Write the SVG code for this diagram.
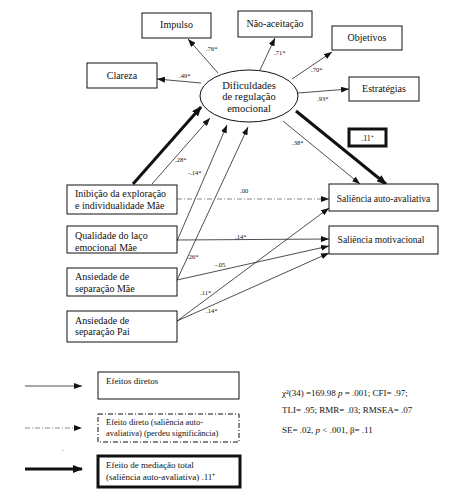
<svg xmlns="http://www.w3.org/2000/svg" width="467" height="503" viewBox="0 0 467 503">
<style>
  text { font-family: "Liberation Serif", "Times New Roman", serif; fill: #111; }
  .box { fill: #fff; stroke: #111; stroke-width: 1; }
  .bt { font-size: 10px; }
  .bc { font-size: 10px; text-anchor: middle; }
  .lab { font-size: 6.5px; }
  .lg { font-size: 9px; }
  .ln { stroke: #222; stroke-width: 0.8; fill: none; marker-end: url(#a); }
  .thick { stroke: #111; stroke-width: 3; fill: none; marker-end: url(#at); }
  .dd { stroke: #888; stroke-width: 1; fill: none; stroke-dasharray: 5 2 1 2; marker-end: url(#a); }
</style>
<defs>
  <marker id="a" markerUnits="userSpaceOnUse" markerWidth="8" markerHeight="6" refX="8" refY="3" orient="auto">
    <path d="M0,0 L8,3 L0,6 z" fill="#111"/>
  </marker>
  <marker id="at" markerUnits="userSpaceOnUse" markerWidth="10" markerHeight="8" refX="9" refY="4" orient="auto">
    <path d="M0,0 L10,4 L0,8 z" fill="#111"/>
  </marker>
</defs>
<rect width="467" height="503" fill="#fff"/>

<g id="connectors">
  <line class="ln" x1="218" y1="73" x2="188" y2="39"/>
  <line class="ln" x1="260" y1="70" x2="275" y2="38"/>
  <line class="ln" x1="292" y1="79" x2="332" y2="52"/>
  <line class="ln" x1="201" y1="83" x2="157" y2="79"/>
  <line class="ln" x1="298" y1="93" x2="349" y2="89"/>
  <line class="thick" x1="133" y1="184" x2="201" y2="107"/>
  <line class="thick" x1="296" y1="111" x2="386" y2="184"/>
  <line class="ln" x1="283" y1="121" x2="360" y2="184"/>
  <line class="ln" x1="152" y1="184" x2="210" y2="118"/>
  <line class="ln" x1="177" y1="241" x2="227" y2="125"/>
  <line class="ln" x1="177" y1="280" x2="248" y2="127"/>
  <line class="dd" x1="177" y1="199" x2="329" y2="199"/>
  <line class="ln" x1="177" y1="240" x2="329" y2="239"/>
  <line class="ln" x1="177" y1="280" x2="329" y2="246"/>
  <line class="ln" x1="177" y1="321" x2="329" y2="208"/>
  <line class="ln" x1="177" y1="321" x2="329" y2="253"/>
  <text class="lab" x="206" y="51">.76*</text>
  <text class="lab" x="274" y="55">.71*</text>
  <text class="lab" x="311" y="72">.70*</text>
  <text class="lab" x="179" y="78">.49*</text>
  <text class="lab" x="317" y="101">.93*</text>
  <text class="lab" x="292" y="145">.38*</text>
  <text class="lab" x="175" y="162">.28*</text>
  <text class="lab" x="188" y="175">-.14*</text>
  <text class="lab" x="240" y="193">.00</text>
  <text class="lab" x="235" y="239">.14*</text>
  <text class="lab" x="187" y="259">.26*</text>
  <text class="lab" x="215" y="267">-.05</text>
  <text class="lab" x="200" y="295">.11*</text>
  <text class="lab" x="206" y="313">.14*</text>
</g>

<g id="dificuldades">
  <ellipse cx="249" cy="96" rx="49" ry="26" fill="#fff" stroke="#111" stroke-width="1"/>
  <text x="249" y="89" font-size="10.5" text-anchor="middle">Dificuldades</text>
  <text x="249" y="100" font-size="10.5" text-anchor="middle">de regulação</text>
  <text x="249" y="112" font-size="10.5" text-anchor="middle">emocional</text>
</g>
<g id="impulso"><rect class="box" x="142" y="13" width="69" height="25"/><text class="bc" x="176.5" y="28">Impulso</text></g>
<g id="naoaceitacao"><rect class="box" x="238" y="11" width="74" height="26"/><text class="bc" x="275" y="27">Não-aceitação</text></g>
<g id="objetivos"><rect class="box" x="332" y="26" width="70" height="24"/><text class="bc" x="367" y="41">Objetivos</text></g>
<g id="clareza"><rect class="box" x="87" y="63" width="70" height="25"/><text class="bc" x="122" y="79">Clareza</text></g>
<g id="estrategias"><rect class="box" x="349" y="77" width="70" height="24"/><text class="bc" x="384" y="92">Estratégias</text></g>
<g id="med"><rect x="349" y="129" width="37" height="17" fill="#fff" stroke="#111" stroke-width="3"/><text x="367.5" y="141" font-size="8" text-anchor="middle">.11⁺</text></g>

<g id="inibicao"><rect class="box" x="67" y="185" width="110" height="29"/>
  <text class="bt" x="75" y="197">Inibição da exploração</text><text class="bt" x="75" y="208.5">e individualidade Mãe</text></g>
<g id="qualidade"><rect class="box" x="67" y="226" width="110" height="27"/>
  <text class="bt" x="75" y="239">Qualidade do laço</text><text class="bt" x="75" y="250.5">emocional Mãe</text></g>
<g id="ansmae"><rect class="box" x="67" y="268" width="110" height="28"/>
  <text class="bt" x="75" y="279.5">Ansiedade de</text><text class="bt" x="75" y="291.5">separação Mãe</text></g>
<g id="anspai"><rect class="box" x="67" y="311" width="110" height="31"/>
  <text class="bt" x="75" y="323.5">Ansiedade de</text><text class="bt" x="75" y="335">separação Pai</text></g>
<g id="salauto"><rect class="box" x="329" y="184" width="109" height="27"/><text class="bc" font-size="9.5" x="383.5" y="202" style="font-size:9.5px">Saliência auto-avaliativa</text></g>
<g id="salmot"><rect class="box" x="329" y="226" width="109" height="28"/><text class="bc" x="381" y="243" style="font-size:9.5px">Saliência motivacional</text></g>

<g id="legend">
  <line class="ln" x1="25" y1="386" x2="82" y2="386"/>
  <rect class="box" x="98" y="372" width="141" height="27"/>
  <text class="lg" x="106" y="384">Efeitos diretos</text>
  <line class="dd" x1="25" y1="428" x2="82" y2="428"/>
  <rect x="98" y="414" width="141" height="28" fill="#fff" stroke="#111" stroke-width="1" stroke-dasharray="5 2 1 2"/>
  <text x="106" y="425" font-size="8.5">Efeito direto (saliência auto-</text>
  <text x="106" y="435.5" font-size="8.5">avaliativa) (perdeu significância)</text>
  <text x="62" y="451" font-size="6">.</text>
  <line class="thick" x1="25" y1="469" x2="82" y2="469"/>
  <rect x="98" y="456" width="142" height="31" fill="#fff" stroke="#111" stroke-width="3"/>
  <text class="lg" x="106" y="468">Efeito de mediação total</text>
  <text class="lg" x="106" y="480">(saliência auto-avaliativa) .11⁺</text>
  <text class="lg" x="282" y="396">χ²(34) =169.98 <tspan font-style="italic">p</tspan> = .001; CFI= .97;</text>
  <text class="lg" x="282" y="413">TLI= .95; RMR= .03; RMSEA= .07</text>
  <text class="lg" x="282" y="433">SE= .02, <tspan font-style="italic">p</tspan> &lt; .001, β= .11</text>
</g>
</svg>
